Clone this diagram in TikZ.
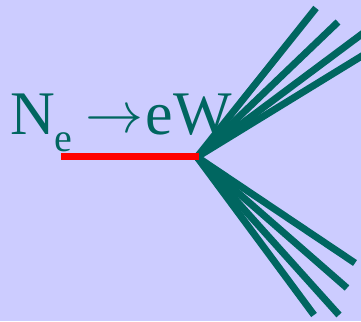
\documentclass[tikz,border=0pt]{standalone}
\usepackage{fontspec}
\setmainfont{Liberation Serif}
\definecolor{lavender}{HTML}{CCCCFF}
\definecolor{jetgreen}{HTML}{006660}
\begin{document}
\begin{tikzpicture}[x=1pt,y=-1pt,
  jet/.style={jetgreen,line width=7pt},
  lepton/.style={red,line width=7pt}]
\fill[lavender] (0,0) rectangle (361,321);
\useasboundingbox (0,0) rectangle (361,321);
\clip (0,0) rectangle (361,321);

\node[anchor=base west,inner sep=0pt,text=jetgreen,font=\fontsize{62}{62}\selectfont] (label) at (10,134)
  {N\raisebox{-17pt}{\fontsize{40}{40}\selectfont e}\hspace{13pt}\raisebox{2pt}{\resizebox{58pt}{!}{$\rightarrow$}}\hspace{2pt}eW};

\coordinate (vertex) at (197,157);
\coordinate (start) at (61,156.5);

% jets going up
\draw[jet] (vertex) -- (316,8);
\draw[jet] (vertex) -- (338,22);
\draw[jet] (vertex) -- (370,28);
\draw[jet] (vertex) -- (370,51);

% jets going down
\draw[jet] (vertex) -- (355,263);
\draw[jet] (vertex) -- (347,288);
\draw[jet] (vertex) -- (339,315);
\draw[jet] (vertex) -- (314,315);

\draw[lepton] (start) -- (199,156.5);
\end{tikzpicture}
\end{document}
